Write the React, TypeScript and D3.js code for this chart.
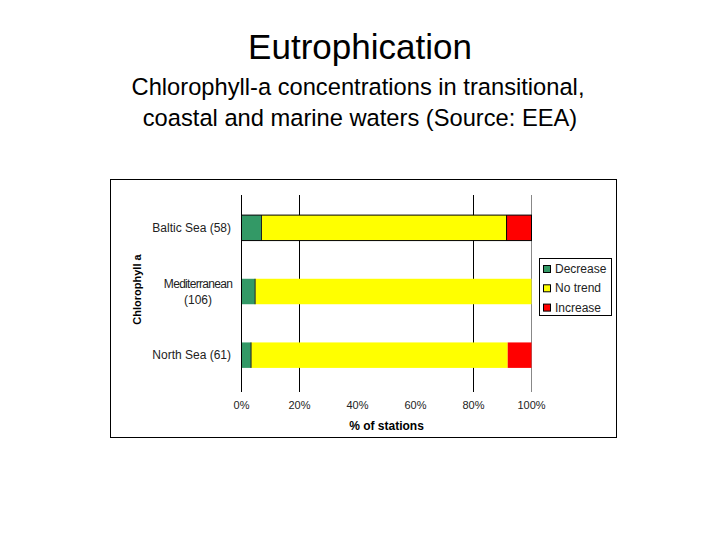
import * as d3 from 'd3';

const categoryLabels: string[][] = [['Baltic Sea (58)'], ['Mediterranean', '(106)'], ['North Sea (61)']];
const categories = categoryLabels.map((l) => l.join(' '));
const decrease = [6.9, 4.7, 3.3];
const noTrend = [84.5, 95.3, 88.5];
const increase = [8.6, 0, 8.2];
const seriesNames = ['Decrease', 'No trend', 'Increase'];
const seriesColors = ['#339966', '#ffff00', '#ff0000'];
const xTicks = [0, 20, 40, 60, 80, 100];
const gridTicks = [20, 80];

const W = 720;
const H = 540;
const plot = { left: 241.5, right: 531.5, top: 196, bottom: 387 };
const font = 'Arial, "Liberation Sans", sans-serif';

function App() {
  const x = d3.scaleLinear().domain([0, 100]).range([plot.left, plot.right]);
  const y = d3
    .scaleBand<string>()
    .domain(categories)
    .range([plot.top, plot.bottom])
    .paddingInner(0.6)
    .paddingOuter(0.3);

  const rows = categories.map((c, i) => ({ c, vals: [decrease[i], noTrend[i], increase[i]] }));
  const stack = d3
    .stack<{ c: string; vals: number[] }, number>()
    .keys([0, 1, 2])
    .value((d, k) => d.vals[k]);
  const layers = stack(rows);

  const bw = y.bandwidth();

  return (
    <svg width={W} height={H} style={{ position: 'absolute', left: 0, top: 0, background: '#fff' }} fontFamily={font}>
      <text x={360} y={59} textAnchor="middle" fontSize={35}>Eutrophication</text>
      <text x={358} y={95} textAnchor="middle" fontSize={23.7}>Chlorophyll-a concentrations in transitional,</text>
      <text x={360} y={126} textAnchor="middle" fontSize={23.7}>coastal and marine waters (Source: EEA)</text>

      <rect x={110.5} y={179.5} width={506} height={258} fill="none" stroke="#000" strokeWidth={1} />

      {/* grid lines */}
      {gridTicks.map((t) => (
        <line key={t} x1={x(t)} x2={x(t)} y1={plot.top - 1} y2={plot.bottom + 5} stroke="#000" strokeWidth={1} />
      ))}
      <line x1={x(100)} x2={x(100)} y1={plot.top - 1} y2={plot.bottom + 5} stroke="#888" strokeWidth={1} />

      {/* bars */}
      {layers.map((layer, k) =>
        layer.map((d, i) => (
          <rect
            key={`${k}-${i}`}
            x={x(d[0])}
            y={y(categories[i])}
            width={x(d[1]) - x(d[0])}
            height={bw}
            fill={seriesColors[k]}
          />
        ))
      )}
      {/* segment dividers */}
      {categories.map((c, i) => (
        <g key={c}>
          <line x1={x(decrease[i])} x2={x(decrease[i])} y1={y(c)} y2={(y(c) as number) + bw} stroke="#222" strokeWidth={1} />
          {i === 0 && (
            <>
              <rect x={x(0)} y={y(c)} width={x(100) - x(0)} height={bw} fill="none" stroke="#000" strokeWidth={1} />
              <line x1={x(decrease[i] + noTrend[i])} x2={x(decrease[i] + noTrend[i])} y1={y(c)} y2={(y(c) as number) + bw} stroke="#000" strokeWidth={1} />
            </>
          )}
        </g>
      ))}

      {/* y axis line */}
      <line x1={x(0)} x2={x(0)} y1={plot.top - 1} y2={plot.bottom + 5} stroke="#000" strokeWidth={1} />

      {/* x tick labels */}
      {xTicks.map((t) => (
        <text key={t} x={x(t)} y={409} textAnchor="middle" fontSize={11} fill="#222">
          {t}%
        </text>
      ))}
      <text x={x(50)} y={430} textAnchor="middle" fontSize={12} fontWeight="bold">% of stations</text>

      {/* category labels */}
      {categoryLabels.map((lines, i) => {
        const cy = (y(categories[i]) as number) + bw / 2;
        if (lines.length === 1) {
          return (
            <text key={i} x={231} y={cy + 4} textAnchor="end" fontSize={12} fill="#222">
              {lines[0]}
            </text>
          );
        }
        return (
          <text key={i} x={198} textAnchor="middle" fontSize={12} fill="#222">
            {lines.map((l, j) => (
              <tspan key={j} x={198} y={cy - 4 + j * 16.5} letterSpacing={j === 0 ? -0.7 : 0}>{l}</tspan>
            ))}
          </text>
        );
      })}
      <text
        transform={`translate(141,${(plot.top + plot.bottom) / 2 - 2}) rotate(-90)`}
        textAnchor="middle"
        fontSize={11}
        fontWeight="bold"
      >
        Chlorophyll a
      </text>

      {/* legend */}
      <rect x={539.5} y={258.5} width={72} height={57} fill="#fff" stroke="#000" strokeWidth={1} />
      {seriesNames.map((s, k) => {
        const ly = 269 + k * 19.3;
        return (
          <g key={s}>
            <rect x={543.5} y={ly - 3.5} width={7} height={7} fill={seriesColors[k]} stroke="#000" strokeWidth={1} />
            <text x={555} y={ly + 4} fontSize={12} fill="#222">{s}</text>
          </g>
        );
      })}
    </svg>
  );
}

export default App;
